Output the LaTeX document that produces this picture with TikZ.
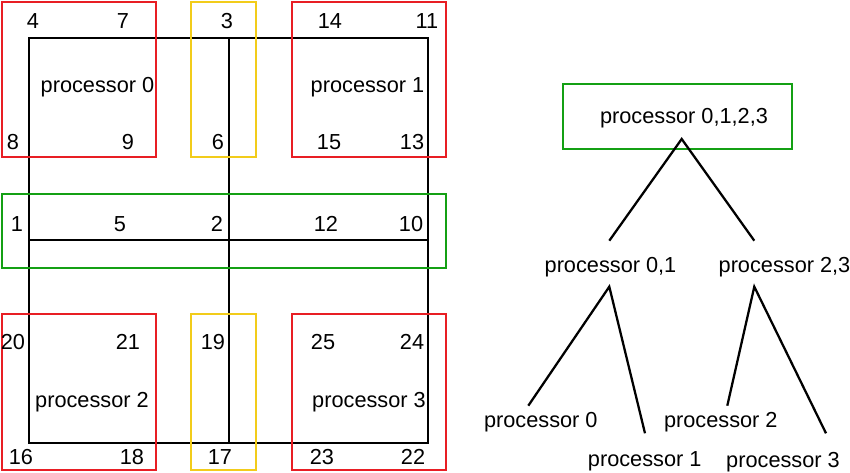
\documentclass[tikz,border=0pt]{standalone}
\usepackage{fontspec}
\setmainfont{Liberation Sans}
\begin{document}
\begin{tikzpicture}[x=0.75pt,y=-0.75pt,
  grid/.style={draw=black,line width=1.5pt},
  redbox/.style={draw=procred,line width=1.5pt},
  yelbox/.style={draw=procyellow,line width=1.5pt},
  grnbox/.style={draw=procgreen,line width=1.5pt},
  lbl/.style={font=\fontsize{16.3}{19}\selectfont,inner sep=0pt,anchor=center},
  edge/.style={draw=black,line width=1.7pt}]
\definecolor{procred}{RGB}{232,30,36}
\definecolor{procyellow}{RGB}{242,204,26}
\definecolor{procgreen}{RGB}{20,160,20}
\useasboundingbox (0,0) rectangle (850,473);
% grid
\draw[grid] (29,38.5) rectangle (428,442.7);
\draw[grid] (228.7,38.5) -- (228.7,442.7);
\draw[grid] (29,240) -- (428,240);
% coloured boxes
\draw[redbox] (2,2) rectangle (156,157);
\draw[yelbox] (191,2) rectangle (256,157);
\draw[redbox] (292,2) rectangle (446,157);
\draw[grnbox] (2,194) rectangle (446,268);
\draw[redbox] (2,314) rectangle (156,470);
\draw[yelbox] (191,314) rectangle (256,470);
\draw[redbox] (292,314) rectangle (446,470);
% labels top
\node[lbl] (n4) at (33,21) {4};
\node[lbl] (n7) at (123,21) {7};
\node[lbl] (n3) at (227,21) {3};
\node[lbl] (n14) at (330,21) {14};
\node[lbl] (n11) at (427,21) {11};
\node[lbl] (p0) at (97.5,87) {processor 0};
\node[lbl] (p1) at (367.5,87) {processor 1};
\node[lbl] (n8) at (13,142) {8};
\node[lbl] (n9) at (128,142) {9};
\node[lbl] (n6) at (218,142) {6};
\node[lbl] (n15) at (329,142) {15};
\node[lbl] (n13) at (412,142) {13};
\node[lbl] (n1) at (17,224) {1};
\node[lbl] (n5) at (120,224) {5};
\node[lbl] (n2) at (217,224) {2};
\node[lbl] (n12) at (326,224) {12};
\node[lbl] (n10) at (411,224) {10};
\node[lbl] (n20) at (13,342) {20};
\node[lbl] (n21) at (128,342) {21};
\node[lbl] (n19) at (213,342) {19};
\node[lbl] (n25) at (323,342) {25};
\node[lbl] (n24) at (412,342) {24};
\node[lbl] (p2) at (92,402) {processor 2};
\node[lbl] (p3) at (369,402) {processor 3};
\node[lbl] (n16) at (21,457) {16};
\node[lbl] (n18) at (132,457) {18};
\node[lbl] (n17) at (220,457) {17};
\node[lbl] (n23) at (322,457) {23};
\node[lbl] (n22) at (413,457) {22};
% tree
\draw[grnbox] (563.3,84) rectangle (791.7,149);
\node[lbl] (t0123) at (684,118.3) {processor 0,1,2,3};
\node[lbl] (t01) at (610.5,267.3) {processor 0,1};
\node[lbl] (t23) at (784.5,267.3) {processor 2,3};
\node[lbl] (t0) at (540.8,422.3) {processor 0};
\node[lbl] (t2) at (720.8,422.3) {processor 2};
\node[lbl] (t1) at (644.7,461.7) {processor 1};
\node[lbl] (t3) at (783,461.7) {processor 3};
\coordinate (a) at (681.7,139);
\coordinate (a01) at (609.3,286.7);
\coordinate (a23) at (754.3,286.7);
\coordinate (e01) at (609.3,240.7);
\coordinate (e23) at (754.3,240.7);
\coordinate (e0) at (528.3,405.7);
\coordinate (e1) at (645,433.3);
\coordinate (e2) at (727.3,405.7);
\coordinate (e3) at (826,433.3);
\draw[edge] (e01) -- (a) -- (e23);
\draw[edge] (e0) -- (a01) -- (e1);
\draw[edge] (e2) -- (a23) -- (e3);
\end{tikzpicture}
\end{document}
